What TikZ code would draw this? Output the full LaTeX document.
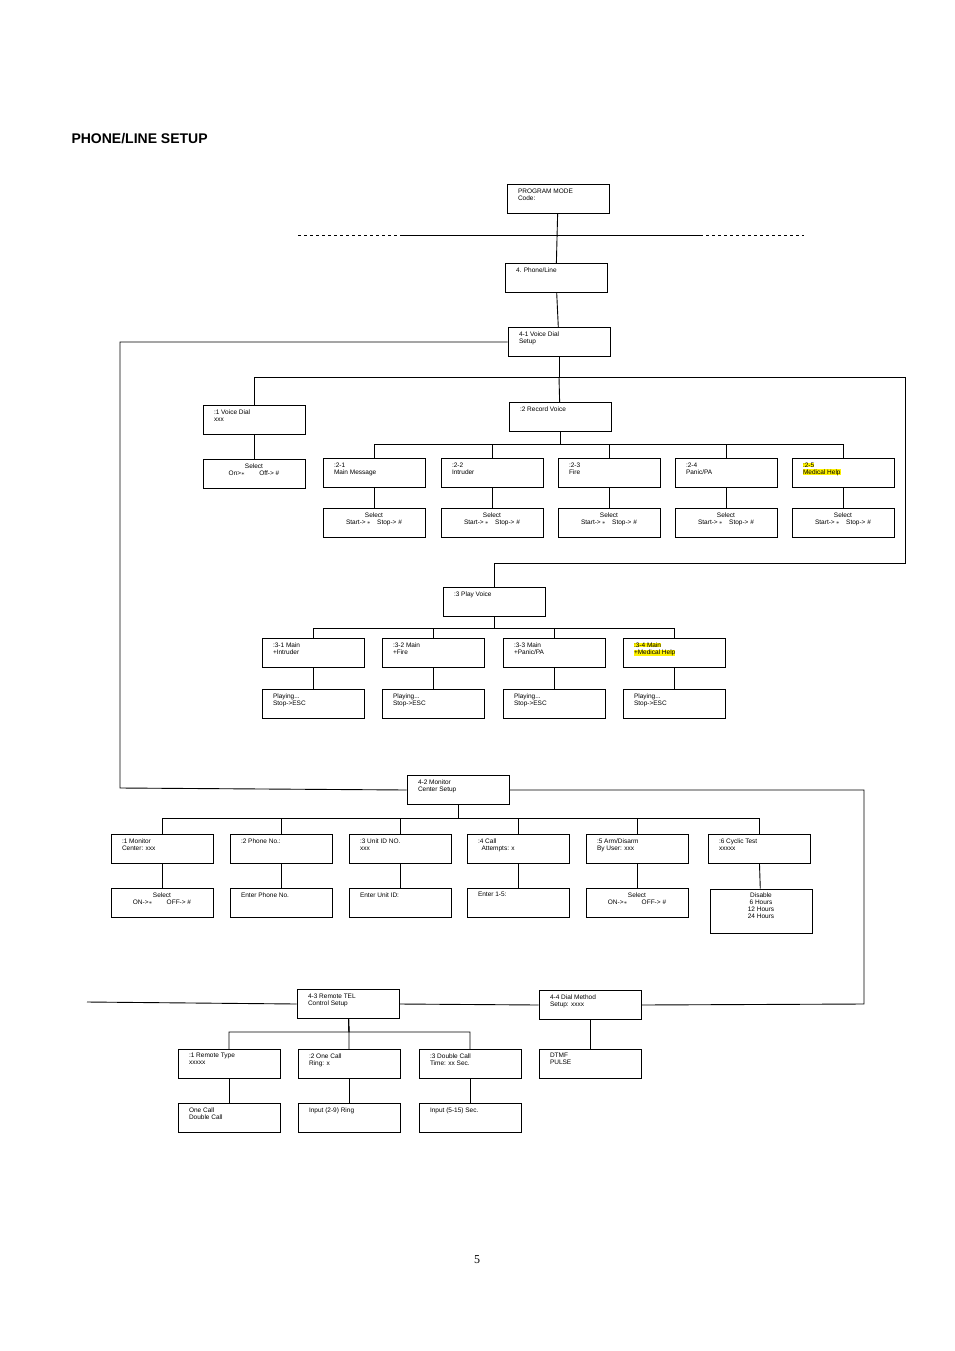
\documentclass[tikz,border=0pt]{standalone}
\usepackage{fontspec}
\setmainfont{Liberation Serif}
\setsansfont{Liberation Sans}
\usetikzlibrary{positioning}

\newcommand{\tb}[1]{\parbox[c][21pt][t]{80pt}{\raggedright #1}}
\newcommand{\tc}[1]{\parbox[c][21pt][t]{80pt}{\centering #1}}
\newcommand{\hl}[1]{{\setlength{\fboxsep}{0pt}\colorbox{yellow}{#1}}}
\newcommand{\st}{$\ast$}

\tikzset{
  box/.style={draw, line width=0.9pt, minimum width=102pt, minimum height=29pt,
    inner sep=0pt, font=\sffamily\fontsize{6.5}{7}\selectfont},
  link/.style={draw, line width=0.9pt}
}

\begin{document}
\begin{tikzpicture}[x=1pt, y=-1pt]
\useasboundingbox (0,0) rectangle (954,1351);
% Title and page number
\node[anchor=west, font=\sffamily\bfseries\fontsize{14}{16}\selectfont] (title) at (68,139) {PHONE/LINE SETUP};
\node[font=\fontsize{12}{14}\selectfont] (page) at (477,1260) {5};

% Top levels
\node[box] (prog) at (558,199) {\tb{PROGRAM MODE\\Code:}};
\node[box] (phone) at (556,278) {\tb{4. Phone/Line}};
\node[box] (vd) at (559,342) {\tb{4-1 Voice Dial\\Setup}};
\coordinate (dl) at (298,235);
\coordinate (dr) at (804,235);
\draw[dashed, line width=0.8pt] (dl) -- (dr);
\draw[link] (400,235) -- (700,235);
\draw[link] (prog) -- (phone);
\draw[link] (phone) -- (vd);

% 4-1 Voice Dial
\node[box] (vdx) at (254,420) {\tb{:1 Voice Dial\\xxx}};
\node[box] (vdsel) at (254,474) {\tc{Select\\On>\st\hspace{2.2em}Off-> \#}};
\node[box] (rec) at (560,417) {\tb{:2 Record Voice}};
\draw[link] (vd) -- (559,377) -| (vdx);
\draw[link] (559,377) -- (rec);
\draw[link] (vdx) -- (vdsel);

\foreach \n/\x/\t in {a/374/{:2-1\\Main Message}, b/492/{:2-2\\Intruder}, c/609/{:2-3\\Fire},
    d/726/{:2-4\\Panic/PA}, e/843/{\hl{:2-5}\\\hl{Medical Help}}} {
  \node[box] (r\n) at (\x,473) {\tb{\t}};
  \node[box] (s\n) at (\x,523) {\tc{Select\\Start->\,\st\hspace{1em}Stop-> \#}};
  \draw[link] (rec) -- (560,444) -| (r\n);
  \draw[link] (r\n) -- (s\n);
}

% 3 Play Voice
\node[box] (play) at (494,602) {\tb{:3 Play Voice}};
\draw[link] (559,377) -- (905,377) -- (905,563) -| (play);
\foreach \n/\x/\t in {a/313/{:3-1 Main\\+Intruder}, b/433/{:3-2 Main\\+Fire},
    c/554/{:3-3 Main\\+Panic/PA}, d/674/{\hl{:3-4 Main}\\\hl{+Medical Help}}} {
  \node[box] (p\n) at (\x,653) {\tb{\t}};
  \node[box] (q\n) at (\x,704) {\tb{Playing...\\Stop->ESC}};
  \draw[link] (play) -- (494,628) -| (p\n);
  \draw[link] (p\n) -- (q\n);
}

% 4-2 Monitor Center Setup
\node[box] (mon) at (458,790) {\tb{4-2 Monitor\\Center Setup}};
\draw[link] (vd.west) -| (120,788) -- (mon.west);
\foreach \n/\x/\t/\u in {a/162/{:1 Monitor\\Center: xxx}/{\tc{Select\\ON->\st\hspace{2.2em}OFF-> \#}},
    b/281/{:2 Phone No.:}/{\tb{Enter Phone No.}},
    c/400/{:3 Unit ID NO.\\xxx}/{\tb{Enter Unit ID:}},
    d/518/{:4 Call\\\ \ Attempts: x}/{\tb{Enter 1-5:}},
    e/637/{:5 Arm/Disarm\\By User: xxx}/{\tc{Select\\ON->\st\hspace{2.2em}OFF-> \#}}} {
  \node[box] (m\n) at (\x,849) {\tb{\t}};
  \node[box] (n\n) at (\x,903) {\u};
  \draw[link] (mon) -- (458,818) -| (m\n);
  \draw[link] (m\n) -- (n\n);
}
\node[box] (mf) at (759,849) {\tb{:6 Cyclic Test\\xxxxx}};
\node[box, minimum height=44pt] (nf) at (761,911) {\parbox[c][36pt][t]{80pt}{\centering Disable\\6 Hours\\12 Hours\\24 Hours}};
\draw[link] (mon) -- (458,818) -| (mf);
\draw[link] (mf) -- (nf);

% 4-3 and 4-4
\node[box] (rem) at (348,1004) {\tb{4-3 Remote TEL\\Control Setup}};
\node[box] (dial) at (590,1005) {\tb{4-4 Dial Method\\Setup: xxxx}};
\coordinate (lend) at (87,1002);
\draw[link] (mon.east) -- (864,790) -- (864,1004) -- (dial.east);
\draw[link] (lend) -- (rem.west);
\draw[link] (rem.east) -- (dial.west);
\foreach \n/\x/\t/\u in {a/229/{:1 Remote Type\\xxxxx}/{One Call\\Double Call},
    b/349/{:2 One Call\\Ring: x}/{Input (2-9) Ring},
    c/470/{:3 Double Call\\Time: xx Sec.}/{Input (5-15) Sec.}} {
  \node[box] (t\n) at (\x,1064) {\tb{\t}};
  \node[box] (u\n) at (\x,1118) {\tb{\u}};
  \draw[link] (rem) -- (349,1032) -| (t\n);
  \draw[link] (t\n) -- (u\n);
}
\node[box] (dtmf) at (590,1064) {\tb{DTMF\\PULSE}};
\draw[link] (dial) -- (dtmf);
\end{tikzpicture}
\end{document}
